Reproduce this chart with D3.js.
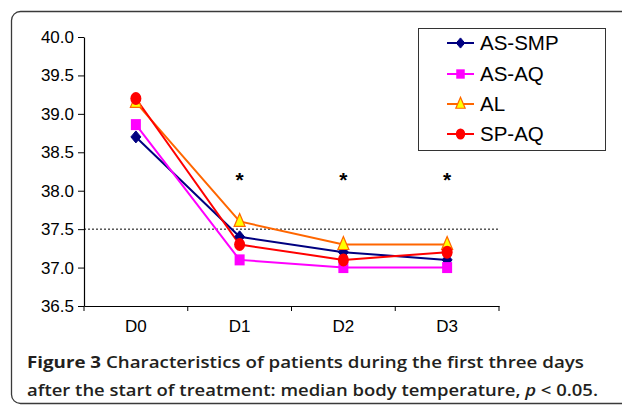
<!DOCTYPE html>
<html>
<head>
<meta charset="utf-8">
<script src="https://d3js.org/d3.v7.min.js"></script>
<style>
  body { margin: 0; background: #fff; }
  svg { display: block; }
</style>
</head>
<body>
<div id="chart"></div>
<script>
// chart data
const days = ['D0', 'D1', 'D2', 'D3'];
const seriesNames = ['AS-SMP', 'AS-AQ', 'AL', 'SP-AQ'];
const asSmp = [38.7, 37.4, 37.2, 37.1];
const asAq = [38.86, 37.1, 37.0, 37.0];
const al = [39.15, 37.6, 37.3, 37.3];
const spAq = [39.2, 37.3, 37.1, 37.2];
const yTicks = [36.5, 37.0, 37.5, 38.0, 38.5, 39.0, 39.5, 40.0];
const starDays = ['D1', 'D2', 'D3'];
const refLine = 37.5;

const width = 622, height = 406;

const svg = d3.select('#chart').append('svg')
    .attr('width', width)
    .attr('height', height);

// frame around figure
svg.append('rect')
    .attr('x', 11.5).attr('y', 11.5)
    .attr('width', 700).attr('height', 392)
    .attr('rx', 9)
    .attr('fill', 'none')
    .attr('stroke', '#3a3a3a')
    .attr('stroke-width', 1.3);

const plot = { left: 84, right: 499, top: 37, bottom: 306 };

const x = d3.scaleBand()
    .domain(days)
    .range([plot.left, plot.right]);

const y = d3.scaleLinear()
    .domain([36.5, 40.0])
    .range([plot.bottom, plot.top]);

const series = [
    { name: seriesNames[0], values: asSmp, line: '#000080', fill: '#000080', stroke: '#000080', shape: 'diamond' },
    { name: seriesNames[1], values: asAq, line: '#ff00ff', fill: '#ff00ff', stroke: '#ff00ff', shape: 'square' },
    { name: seriesNames[2], values: al, line: '#ff6600', fill: '#ffff00', stroke: '#ff6600', shape: 'triangle' },
    { name: seriesNames[3], values: spAq, line: '#ff0000', fill: '#ff0000', stroke: '#ff0000', shape: 'circle' }
];

// axes
const yAxis = svg.append('g')
    .attr('transform', `translate(${plot.left},0)`)
    .call(d3.axisLeft(y).tickValues(yTicks).tickFormat(d3.format('.1f')).tickSize(6).tickSizeOuter(0));
yAxis.select('.domain').attr('stroke', '#000').attr('stroke-width', 1.2);
yAxis.selectAll('.tick line').attr('stroke', '#000');
yAxis.selectAll('text')
    .attr('font-family', 'Liberation Sans, Arial, sans-serif')
    .attr('font-size', 17)
    .attr('fill', '#000')
    .attr('dx', -1);

const xAxis = svg.append('g')
    .attr('transform', `translate(0,${plot.bottom})`)
    .call(d3.axisBottom(x).tickSize(0).tickSizeOuter(0));
xAxis.select('.domain').attr('stroke', '#000').attr('stroke-width', 1.2);
xAxis.selectAll('text')
    .attr('font-family', 'Liberation Sans, Arial, sans-serif')
    .attr('font-size', 17)
    .attr('fill', '#000')
    .attr('dy', '1.35em');

// tick marks between categories
const bounds = days.map(d => x(d)).concat([plot.right]);
xAxis.selectAll('.sep')
    .data(bounds)
    .enter().append('line')
    .attr('class', 'sep')
    .attr('x1', d => d).attr('x2', d => d)
    .attr('y1', 0).attr('y2', 5)
    .attr('stroke', '#000');

// reference line
svg.append('line')
    .attr('x1', plot.left).attr('x2', plot.right)
    .attr('y1', y(refLine)).attr('y2', y(refLine))
    .attr('stroke', '#000')
    .attr('stroke-width', 1)
    .attr('stroke-dasharray', '2,2');

const cx = d => x(d) + x.bandwidth() / 2;

const line = d3.line()
    .x((v, i) => cx(days[i]))
    .y(v => y(v));

function drawMarker(g, shape, fill, stroke, px, py, scale) {
    const s = scale || 1;
    if (shape === 'diamond') {
        g.append('path')
            .attr('d', `M${px},${py - 6 * s}L${px + 5 * s},${py}L${px},${py + 6 * s}L${px - 5 * s},${py}Z`)
            .attr('fill', fill).attr('stroke', stroke);
    } else if (shape === 'square') {
        g.append('rect')
            .attr('x', px - 5 * s).attr('y', py - 5.5 * s)
            .attr('width', 10 * s).attr('height', 11 * s)
            .attr('fill', fill);
    } else if (shape === 'triangle') {
        g.append('path')
            .attr('d', `M${px},${py - 8 * s}L${px + 5.5 * s},${py + 5 * s}L${px - 5.5 * s},${py + 5 * s}Z`)
            .attr('fill', fill).attr('stroke', stroke).attr('stroke-width', 1.2);
    } else {
        g.append('ellipse')
            .attr('cx', px).attr('cy', py)
            .attr('rx', 5.5 * s).attr('ry', 6.5 * s)
            .attr('fill', fill);
    }
}

const lines = svg.append('g');
series.forEach(s => {
    lines.append('path')
        .datum(s.values)
        .attr('d', line)
        .attr('fill', 'none')
        .attr('stroke', s.line)
        .attr('stroke-width', 2);
});

const marks = svg.append('g');
series.forEach(s => {
    s.values.forEach((v, i) => {
        drawMarker(marks, s.shape, s.fill, s.stroke, cx(days[i]), y(v));
    });
});

// significance stars
svg.selectAll('.star')
    .data(starDays)
    .enter().append('text')
    .attr('class', 'star')
    .attr('x', d => cx(d))
    .attr('y', 187)
    .attr('text-anchor', 'middle')
    .attr('font-family', 'Liberation Sans, Arial, sans-serif')
    .attr('font-weight', 'bold')
    .attr('font-size', 21)
    .text('*');

// legend
const legend = svg.append('g').attr('transform', 'translate(418,28)');
legend.append('rect')
    .attr('x', 0.5).attr('y', 0.5)
    .attr('width', 187).attr('height', 122)
    .attr('fill', '#fff')
    .attr('stroke', '#333')
    .attr('stroke-width', 1);

const legendY = [15, 46, 76, 106];
series.forEach((s, i) => {
    const ly = legendY[i];
    legend.append('line')
        .attr('x1', 29).attr('x2', 56)
        .attr('y1', ly).attr('y2', ly)
        .attr('stroke', s.line)
        .attr('stroke-width', 2);
    drawMarker(legend, s.shape, s.fill, s.stroke, 42.5, ly, 0.85);
    legend.append('text')
        .attr('x', 62).attr('y', ly + 7)
        .attr('font-family', 'Liberation Sans, Arial, sans-serif')
        .attr('font-size', 20.5)
        .attr('fill', '#000')
        .text(s.name);
});

// caption
const cap = svg.append('g')
    .attr('font-family', 'Open Sans, Noto Sans, sans-serif')
    .attr('font-size', 16.5)
    .attr('fill', '#231f20');

const c1 = cap.append('text').attr('x', 27).attr('y', 368)
    .attr('textLength', 557).attr('lengthAdjust', 'spacingAndGlyphs');
c1.append('tspan').attr('font-weight', 700).text('Figure 3 ');
c1.append('tspan').attr('font-weight', 600).text('Characteristics of patients during the first three days');

const c2 = cap.append('text').attr('x', 27).attr('y', 396)
    .attr('textLength', 571).attr('lengthAdjust', 'spacingAndGlyphs')
    .attr('font-weight', 600);
c2.append('tspan').text('after the start of treatment: median body temperature, ');
c2.append('tspan').attr('font-style', 'italic').text('p');
c2.append('tspan').text(' < 0.05.');
</script>
</body>
</html>
